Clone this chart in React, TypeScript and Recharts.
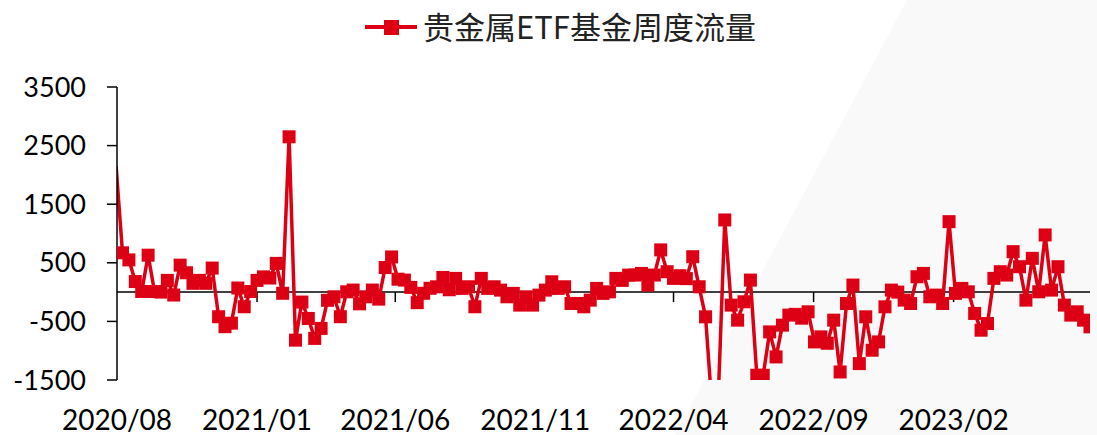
import React from 'react';
import { LineChart, Line, XAxis, YAxis, ReferenceLine, Legend } from 'recharts';

// weekly net flow, week 0 sits just left of the axis start
const flows = [
  2150, 670, 550, 180, 10, 630, 10, 0, 200, -50,
  460, 330, 150, 200, 150, 410, -420, -590, -530, 70,
  -250, 10, 200, 260, 240, 490, -20, 2650, -820, -170,
  -450, -790, -620, -140, -80, -420, 5, 35, -200, -80,
  35, -120, 420, 600, 220, 205, 80, -180, -20, 65,
  90, 250, 40, 234, 63, 91, -250, 234, 63, 91,
  34, -80, -22, -222, -80, -222, -51, 34, 176, 63,
  91, -194, -194, -251, -137, 63, -22, 5, 234, 200,
  290, 291, 319, 120, 291, 720, 348, 234, 280, 230,
  604, 91, -422, -1950, -1750, 1231, -222, -479, -165, 205,
  -1419, -1419, -679, -1106, -564, -393, -380, -445, -336, -850,
  -764, -873, -479, -1363, -194, 120, -1220, -422, -992, -850,
  -251, 34, 0, -137, -194, 262, 319, -80, -51, -194,
  1202, -22, 63, 5, -364, -650, -536, 234, 348, 291,
  690, 433, -137, 576, 5, 975, 34, 433, -222, -393,
  -336, -479, -593,
];

// month starts, in weeks from the first data week
const tickWeeks = [0.143, 22, 43.57, 65.43, 87, 108.86, 130.71];
const tickLabels = ['2020/08', '2021/01', '2021/06', '2021/11', '2022/04', '2022/09', '2023/02'];
const yTicks = [-1500, -500, 500, 1500, 2500, 3500];

const RED = '#DD0015';
const seriesName = '贵金属ETF基金周度流量';

const data = flows.map((v, i) => ({ week: i, flow: v }));

const SquareDot = (props: any) => {
  const { cx, cy, index, value } = props;
  if (index === 0 || cx == null || cy == null || value < -1500) return null;
  return <rect key={`d${index}`} x={cx - 6.5} y={cy - 6.5} width={13} height={13} fill={RED} />;
};

const renderLegend = () => (
  <div style={{ position: 'relative', width: 1097, height: 60 }}>
    <svg style={{ position: 'absolute', left: 365, top: 0 }} width={54} height={54}>
      <line x1={0} y1={27} x2={52} y2={27} stroke={RED} strokeWidth={4} />
      <rect x={19} y={20} width={15} height={15} fill={RED} />
    </svg>
    <span
      style={{
        position: 'absolute',
        left: 423,
        top: 0,
        lineHeight: '52px',
        fontSize: 31,
        fontFamily: '"Noto Sans CJK SC", sans-serif',
        color: '#222',
        whiteSpace: 'nowrap',
      }}
    >
      {seriesName}
    </span>
  </div>
);

export default function App() {
  return (
    <div style={{ position: 'absolute', left: 0, top: 0, width: 1097, height: 435, background: '#fff', overflow: 'hidden' }}>
      {/* faint diagonal backdrop on the right */}
      <div
        style={{
          position: 'absolute',
          inset: 0,
          background: '#f9f9f9',
          clipPath: 'polygon(907px 0, 1097px 0, 1097px 435px, 675px 435px)',
        }}
      />
      <div style={{ position: 'absolute', left: 0, top: 0 }}>
        <LineChart width={1097} height={435} data={data} margin={{ top: 27, right: 7, bottom: 10, left: 17 }}>
          <Legend verticalAlign="top" content={renderLegend} wrapperStyle={{ left: 0, top: 0, width: 1097, height: 60 }} />
          <XAxis
            dataKey="week"
            type="number"
            domain={[tickWeeks[0], 152]}
            allowDataOverflow
            ticks={tickWeeks}
            tickFormatter={(v) => tickLabels[tickWeeks.indexOf(v)] ?? ''}
            axisLine={false}
            tickLine={false}
            tickSize={8}
            tickMargin={22}
            height={45}
            interval={0}
            tick={{ fontSize: 28, fontFamily: 'Lato', fill: '#000' }}
          />
          <YAxis
            domain={[-1500, 3500]}
            ticks={yTicks}
            allowDataOverflow
            interval={0}
            width={100}
            axisLine={{ stroke: '#000', strokeWidth: 1.5 }}
            tickLine={{ stroke: '#000', strokeWidth: 1.5 }}
            tickSize={10}
            tickMargin={21}
            tick={{ fontSize: 27, fontFamily: 'Lato', fill: '#000' }}
          />
          <ReferenceLine y={0} stroke="#000" strokeWidth={1.5} />
          {tickWeeks.slice(1).map((t) => (
            <ReferenceLine
              key={t}
              segment={[{ x: t, y: 0 }, { x: t, y: -170 }]}
              stroke="#000"
              strokeWidth={1.5}
            />
          ))}
          <Line
            type="linear"
            dataKey="flow"
            name={seriesName}
            stroke={RED}
            strokeWidth={3.5}
            dot={SquareDot}
            activeDot={false}
            isAnimationActive={false}
          />
        </LineChart>
      </div>
    </div>
  );
}
